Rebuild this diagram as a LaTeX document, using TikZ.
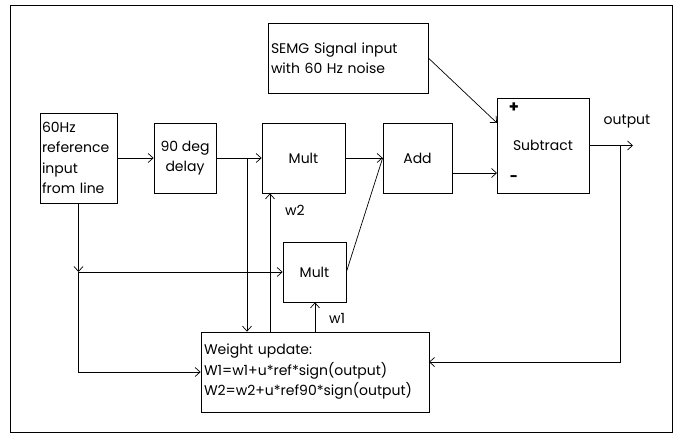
\documentclass[tikz,border=0pt]{standalone}
\usepackage{fontspec}
\setmainfont{Poppins}
\usetikzlibrary{arrows.meta}

\tikzset{
  blk/.style={draw, line width=0.7pt, inner sep=2pt},
  arr/.style={-{Straight Barb[length=5pt,width=9pt]}, line width=0.7pt},
  wire/.style={line width=0.7pt}
}

\begin{document}
\begin{tikzpicture}[x=1pt,y=-1pt,font=\fontsize{14}{20.5}\selectfont]
                \useasboundingbox (0,0) rectangle (676,434);
                \draw[line width=0.8pt] (10,5) rectangle (672,432);

                \node[blk, minimum width=77, minimum height=90, text width=73, align=left] (ref) at (78.5,158) {60Hz\\reference\\input\\from line};
                \node[blk, minimum width=62, minimum height=70, align=center] (delay) at (185,158) {90 deg\\delay};
                \node[blk, minimum width=160, minimum height=70, text width=154, align=left] (semg) at (348,58) {SEMG Signal input\\with 60 Hz noise};
                \node[blk, minimum width=83, minimum height=70] (multa) at (303.5,158) {Mult};
                \node[blk, minimum width=69, minimum height=70] (add) at (417.5,158) {Add};
                \node[blk, minimum width=92, minimum height=95] (sub) at (543,145.5) {Subtract};
                \node[blk, minimum width=63, minimum height=60] (multb) at (314.5,272) {Mult};
                \node[blk, minimum width=228, minimum height=80, text width=222, align=left] (wup) at (315,372) {Weight update:\\W1=w1+u*ref*sign(output)\\W2=w2+u*ref90*sign(output)};

                \node[font=\bfseries\fontsize{16}{16}\selectfont] (plus) at (514,108) {+};
                \node[font=\bfseries\fontsize{14}{14}\selectfont] (minus) at (514,179) {-};
                \node (outlbl) at (627,122) {output};
                \node (w2lbl) at (295,210) {w2};
                \node (w1lbl) at (337,318) {w1};

                \coordinate (jn) at (78.5,272);
                \coordinate (br) at (247,158);
                \coordinate (w2x) at (270,0);
                \coordinate (w1x) at (315,0);
                \coordinate (plusin) at (497,123);
                \coordinate (minusin) at (497,173);
                \coordinate (outp) at (633,145.5);
                \coordinate (fb) at (620,145.5);
                \coordinate (fbin) at (429,362);

                \draw[arr] (ref) -- (delay);
                \draw[arr] (delay) -- (multa);
                \draw[arr] (br) -- (br |- wup.north);
                \draw[arr] (wup.north -| w2x) -- (multa.south -| w2x);
                \draw[arr] (wup.north -| w1x) -- (multb.south -| w1x);
                \draw[arr] (multa) -- (add);
                \draw[wire] (multb.east) -- (add.west);
                \draw[arr] (ref.south) -- (jn);
                \draw[arr] (jn) -- (multb.west);
                \draw[arr] (jn) |- (wup.west);
                \draw[arr] (semg.east) -- (plusin);
                \draw[arr] (add.east |- minusin) -- (minusin);
                \draw[arr] (sub.east) -- (outp);
                \draw[arr] (fb) |- (fbin);

            \end{tikzpicture}
\end{document}
